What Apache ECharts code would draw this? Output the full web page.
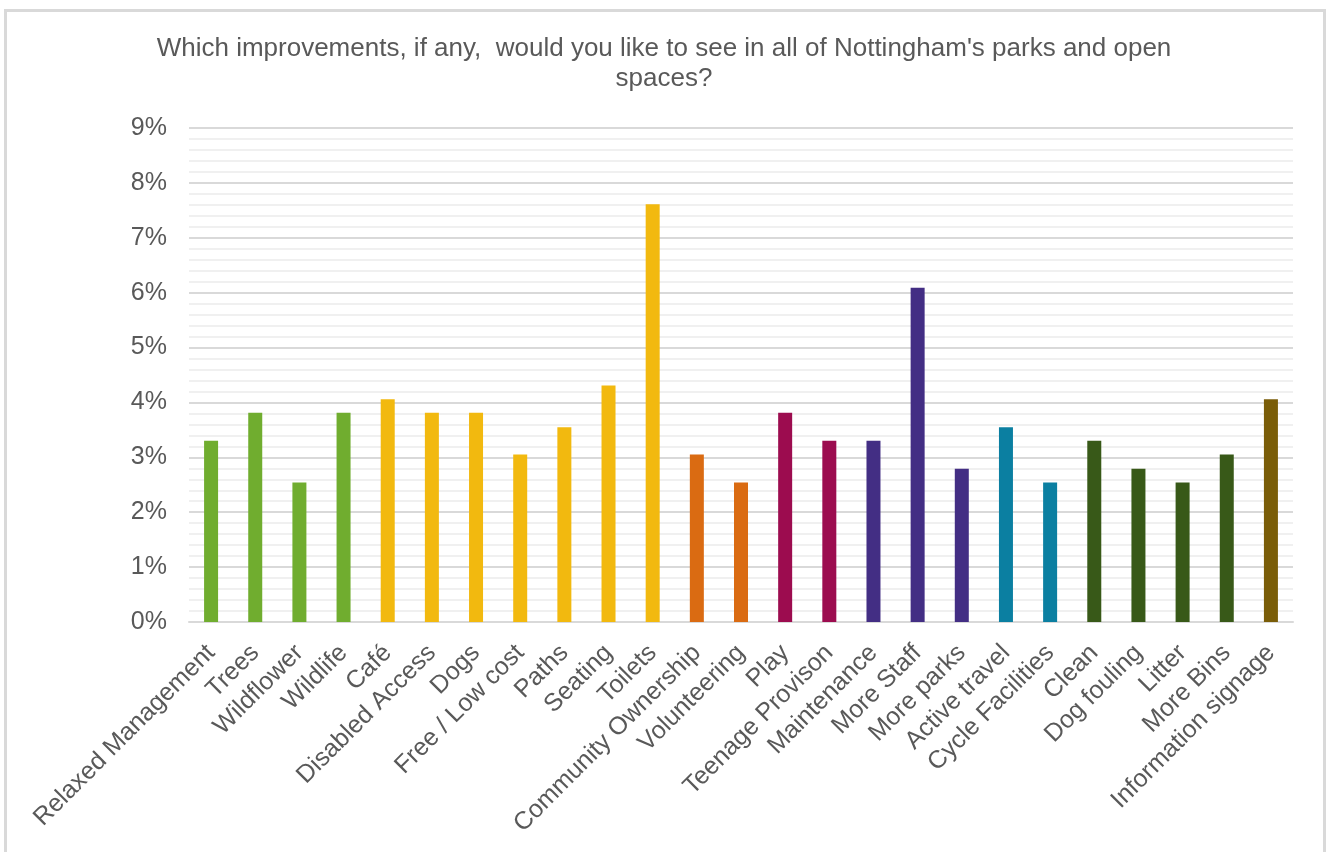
<!DOCTYPE html>
<html>
<head>
<meta charset="utf-8">
<script src="https://cdn.jsdelivr.net/npm/echarts@6/dist/echarts.min.js"></script>
<style>
  html, body { margin: 0; padding: 0; background: #ffffff; }
  #chart { width: 1328px; height: 852px; }
</style>
</head>
<body>
<div id="chart"></div>
<script>
// Survey responses: share of all improvement mentions, per theme
const categories = [
  'Relaxed Management', 'Trees', 'Wildflower', 'Wildlife', 'Café',
  'Disabled Access', 'Dogs', 'Free / Low cost', 'Paths', 'Seating',
  'Toilets', 'Community Ownership', 'Volunteering', 'Play', 'Teenage Provison',
  'Maintenance', 'More Staff', 'More parks', 'Active travel', 'Cycle Facilities',
  'Clean', 'Dog fouling', 'Litter', 'More Bins', 'Information signage'
];

// percent of responses
const values = [
  3.30, 3.81, 2.54, 3.81, 4.06,
  3.81, 3.81, 3.05, 3.55, 4.31,
  7.61, 3.05, 2.54, 3.81, 3.30,
  3.30, 6.09, 2.79, 3.55, 2.54,
  3.30, 2.79, 2.54, 3.05, 4.06
];

// theme group of each category
const groups = [
  'nature', 'nature', 'nature', 'nature', 'facilities',
  'facilities', 'facilities', 'facilities', 'facilities', 'facilities',
  'facilities', 'community', 'community', 'youth', 'youth',
  'staffing', 'staffing', 'staffing', 'travel', 'travel',
  'cleanliness', 'cleanliness', 'cleanliness', 'cleanliness', 'information'
];

const yTicks = [0, 1, 2, 3, 4, 5, 6, 7, 8, 9];

const groupColors = {
  nature: '#70AD2F',
  facilities: '#F2B90F',
  community: '#DA6B12',
  youth: '#9C0C4F',
  staffing: '#432E84',
  travel: '#0B7FA1',
  cleanliness: '#385918',
  information: '#7A5D08'
};

const FONT = 'Liberation Sans, Arial, sans-serif';

const chart = echarts.init(document.getElementById('chart'), null, { renderer: 'canvas' });

chart.setOption({
  animation: false,
  backgroundColor: '#ffffff',
  title: {
    text: "Which improvements, if any,  would you like to see in all of Nottingham's parks and open\nspaces?",
    left: 'center',
    top: 29,
    textStyle: {
      fontFamily: FONT,
      fontSize: 26,
      fontWeight: 'normal',
      color: '#595959',
      lineHeight: 30
    }
  },
  graphic: [{
    type: 'rect',
    shape: { x: 5.5, y: 10.5, width: 1319, height: 900 },
    style: { fill: 'none', stroke: '#d9d9d9', lineWidth: 3 },
    silent: true,
    z: -1
  }],
  grid: { left: 189, right: 35, top: 128, bottom: 230, containLabel: false },
  xAxis: {
    type: 'category',
    data: categories,
    axisLine: { show: true, lineStyle: { color: '#d9d9d9', width: 2 } },
    axisTick: { show: false },
    axisLabel: {
      interval: 0,
      rotate: 45,
      margin: 27,
      fontFamily: FONT,
      fontSize: 25,
      color: '#595959'
    },
    splitLine: { show: false }
  },
  yAxis: {
    type: 'value',
    min: yTicks[0],
    max: yTicks[yTicks.length - 1],
    interval: 1,
    axisLine: { show: false },
    axisTick: { show: false },
    axisLabel: {
      margin: 22,
      fontFamily: FONT,
      fontSize: 25,
      color: '#595959',
      formatter: v => v + '%'
    },
    splitLine: { show: true, lineStyle: { color: '#d9d9d9', width: 2 } },
    minorTick: { show: false, splitNumber: 5 },
    minorSplitLine: { show: true, lineStyle: { color: '#f0f0f0', width: 2 } }
  },
  series: [{
    type: 'bar',
    barWidth: 14,
    data: values.map((v, i) => ({
      value: v,
      itemStyle: { color: groupColors[groups[i]] }
    }))
  }]
});
</script>
</body>
</html>
